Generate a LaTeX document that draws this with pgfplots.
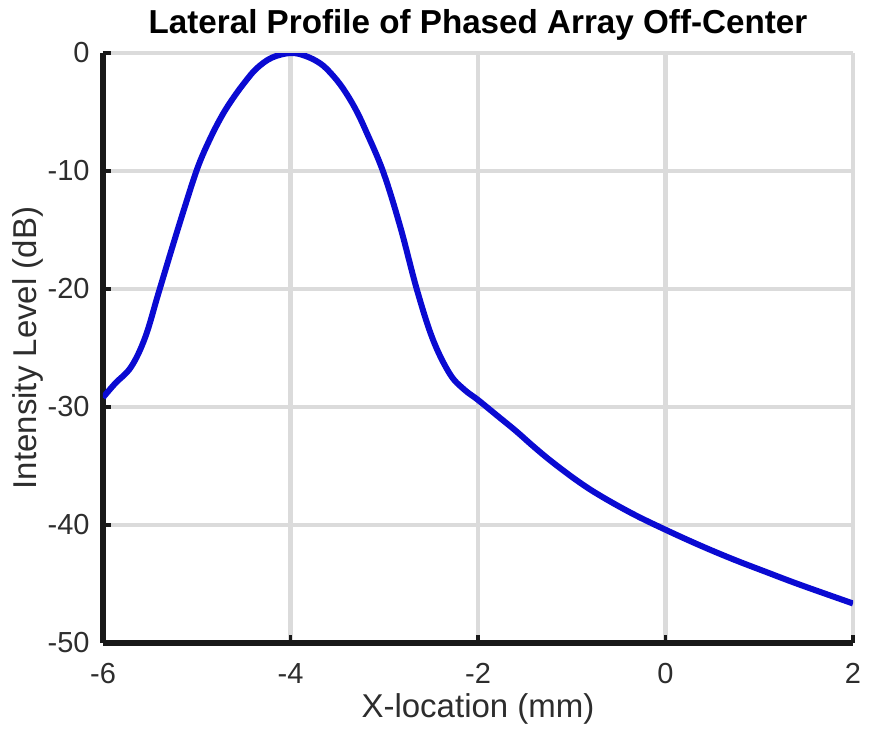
\documentclass[border=0pt]{standalone}
\usepackage{pgfplots}
\pgfplotsset{compat=1.18}
\usepackage{fontspec}
\setmainfont{Liberation Sans}

\definecolor{curveblue}{RGB}{10,10,210}
\definecolor{labelgray}{RGB}{45,45,45}

\begin{document}
\begin{tikzpicture}
\begin{axis}[
    name=ax,
    scale only axis,
    width=375pt, height=295pt,
    xmin=-6, xmax=2,
    ymin=-50, ymax=0,
    xtick={-6,-4,-2,0,2},
    ytick={-50,-40,-30,-20,-10,0},
    axis x line*=bottom,
    axis y line*=left,
    axis line style={line width=2.6pt, black!90},
    tick style={line width=1.6pt, black!90},
    tick align=inside,
    major tick length=4pt,
    grid=major,
    major grid style={line width=2.2pt, black!14},
    /pgf/number format/assume math mode=true,
    ticklabel style={font=\fontsize{14.5}{16}\selectfont, text=labelgray},
    xticklabel style={anchor=base, yshift=-20pt},
    yticklabel style={anchor=east, inner sep=0pt, xshift=-6.5pt},
    every axis title shift=0pt,
    title={\textbf{Lateral Profile of Phased Array Off-Center}},
    title style={font=\fontsize{16.6}{18}\selectfont, at={(axis description cs:0.5,1)}, anchor=base, yshift=10pt},
    xlabel={X-location (mm)},
    xlabel style={font=\fontsize{16.5}{18}\selectfont, text=labelgray, at={(axis description cs:0.5,0)}, anchor=base, yshift=-37pt},
    ylabel={Intensity Level (dB)},
    ylabel style={font=\fontsize{16.5}{18}\selectfont, text=labelgray, at={([xshift=-37.5pt]axis description cs:0,0.5)}, anchor=center, rotate=0},
]
\addplot[color=curveblue, line width=3pt, smooth, tension=0.6] coordinates {
    (-6.00,-29.2) (-5.87,-28.0) (-5.70,-26.6) (-5.55,-24.1) (-5.41,-20.4)
    (-5.27,-16.7) (-5.13,-13.1) (-4.99,-9.7) (-4.86,-7.3) (-4.73,-5.3)
    (-4.61,-3.8) (-4.48,-2.4) (-4.36,-1.3) (-4.20,-0.4) (-4.00,0.0)
    (-3.84,-0.25) (-3.68,-0.9) (-3.56,-1.8) (-3.44,-3.0) (-3.31,-4.7)
    (-3.19,-6.7) (-3.01,-10.1) (-2.83,-14.7) (-2.65,-20.1) (-2.48,-24.3)
    (-2.30,-27.2) (-2.15,-28.5) (-2.00,-29.4) (-1.80,-30.7) (-1.60,-32.0)
    (-1.40,-33.4) (-1.21,-34.65) (-0.95,-36.2) (-0.71,-37.45) (-0.35,-39.05)
    (0.00,-40.4) (0.36,-41.7) (0.72,-42.9) (1.08,-44.0) (1.43,-45.05)
    (2.00,-46.65)
};
\end{axis}
\pgfresetboundingbox
\path[use as bounding box] ([xshift=-51.5pt,yshift=-46pt]ax.south west) rectangle ([xshift=8pt,yshift=26.5pt]ax.north east);
\end{tikzpicture}
\end{document}
